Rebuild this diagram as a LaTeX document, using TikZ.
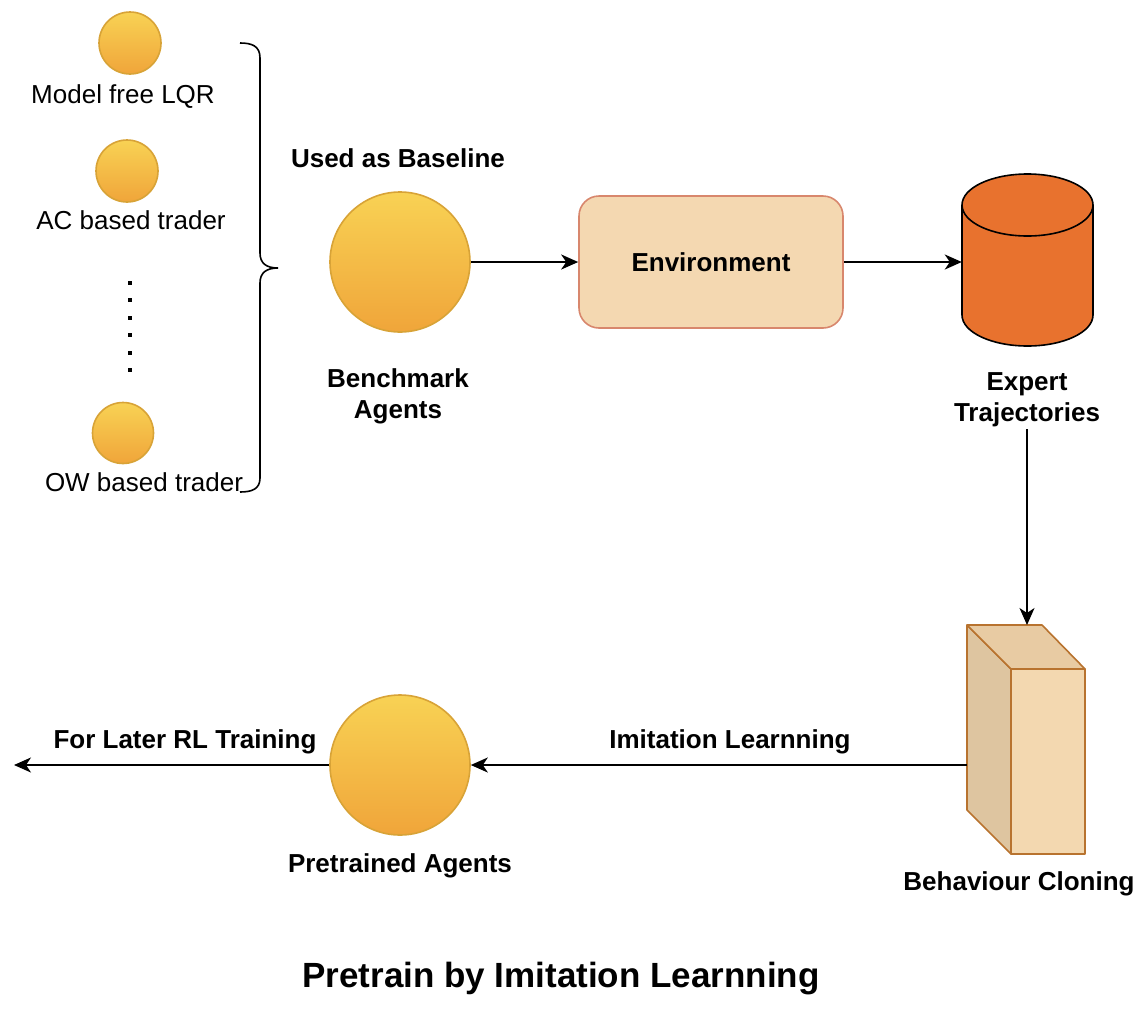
\documentclass[tikz,border=0pt]{standalone}
\usepackage{fontspec}
\setmainfont{Liberation Sans}
\usetikzlibrary{arrows.meta,shapes.geometric}
\definecolor{agtop}{HTML}{F8D254}
\definecolor{agbot}{HTML}{F0A53A}
\definecolor{agdraw}{HTML}{D8A337}
\definecolor{envfill}{HTML}{F4D8B1}
\definecolor{envdraw}{HTML}{D8876D}
\definecolor{dbfill}{HTML}{E8722E}
\definecolor{cubefront}{HTML}{F3D8B0}
\definecolor{cubetop}{HTML}{E8CBA3}
\definecolor{cubeside}{HTML}{DEC5A0}
\definecolor{cubedraw}{HTML}{B8732F}
\tikzset{
  agent/.style={circle, draw=agdraw, line width=1.6pt, top color=agtop, bottom color=agbot, inner sep=0pt},
  lab/.style={font=\fontsize{26}{31}\selectfont, inner sep=0pt, align=center},
  blab/.style={font=\fontsize{26}{31}\selectfont\bfseries, inner sep=0pt, align=center},
  arr/.style={line width=2pt, -{Stealth[length=17pt,width=15pt,inset=5pt]}},
  cubeline/.style={draw=cubedraw, line width=1.6pt, line join=round},
}
\begin{document}
\begin{tikzpicture}[x=1pt,y=-1pt]
\useasboundingbox (0,0) rectangle (1146,1010);

% left list of baseline agents
\node[agent, minimum size=62pt] (a1) at (130,43) {};
\node[lab] (l1) at (123,97) {Model free LQR};
\node[agent, minimum size=62pt] (a2) at (127,171) {};
\node[lab] (l2) at (131,220) {AC based trader};
\node[agent, minimum size=61pt] (a3) at (123,433) {};
\node[lab] (l3) at (144,482) {OW based trader};
\foreach \yy in {283,300.4,317.8,335.2,352.6,370}
  \fill (128,\yy-2) rectangle (132,\yy+2);

% brace
\draw[line width=1.6pt]
  (240,43) .. controls (252,43) and (260,46) .. (260,58)
  -- (260,253) .. controls (260,263) and (266,268) .. (278,268)
  .. controls (266,268) and (260,273) .. (260,283)
  -- (260,478) .. controls (260,489) and (252,492) .. (240,492);

% top row
\node[blab] (base) at (398,158) {Used as Baseline};
\node[agent, minimum size=140pt] (bench) at (400,262) {};
\node[blab] (benchl) at (398,396) {Benchmark\\Agents};
\node[rectangle, rounded corners=20pt, draw=envdraw, fill=envfill, line width=1.6pt,
      minimum width=264pt, minimum height=132pt, font=\fontsize{26}{31}\selectfont\bfseries] (env) at (711,262) {Environment};

% cylinder
\node[rectangle, minimum width=131pt, minimum height=172pt, inner sep=0pt] (db) at (1027.5,260) {};
\draw[fill=dbfill, line width=1.6pt]
  (962,205) -- (962,315) arc[start angle=180, end angle=360, x radius=65.5pt, y radius=31pt]
  -- (1093,205) arc[start angle=0, end angle=180, x radius=65.5pt, y radius=31pt] -- cycle;
\draw[line width=1.6pt] (962,205) arc[start angle=180, end angle=360, x radius=65.5pt, y radius=31pt];
\node[blab] (exp) at (1027,400) {Expert\\Trajectories};

% cuboid
\node[rectangle, minimum width=118pt, minimum height=229pt, inner sep=0pt] (bc) at (1026,739.5) {};
\draw[cubeline, fill=cubeside] (967,625) -- (1011,669) -- (1011,854) -- (967,810) -- cycle;
\draw[cubeline, fill=cubetop] (967,625) -- (1042,625) -- (1085,669) -- (1011,669) -- cycle;
\draw[cubeline, fill=cubefront] (1011,669) rectangle (1085,854);
\coordinate (bctop) at (1027,625);
\coordinate (bcleft) at (967,765);
\node[blab] (bcl) at (1019,884) {Behaviour Cloning};

% bottom row
\node[agent, minimum size=140pt] (pre) at (400,765) {};
\node[blab] (prel) at (400,866) {Pretrained Agents};
\node[blab] (iml) at (730,742) {Imitation Learnning};
\node[blab] (forl) at (185,742) {For Later RL Training};
\coordinate (out) at (14,765);

% title
\node[font=\fontsize{35}{40}\selectfont\bfseries, inner sep=0pt] (title) at (561,979) {Pretrain by Imitation Learnning};

% connectors
\draw[arr] (bench.east) -- (env.west);
\draw[arr] (env.east) -- (env.east -| db.west);
\draw[arr] (exp.south) ++(0,2) -- (bctop);
\draw[arr] (bcleft) -- (pre.east);
\draw[arr] (pre.west) -- (out);
\end{tikzpicture}
\end{document}
